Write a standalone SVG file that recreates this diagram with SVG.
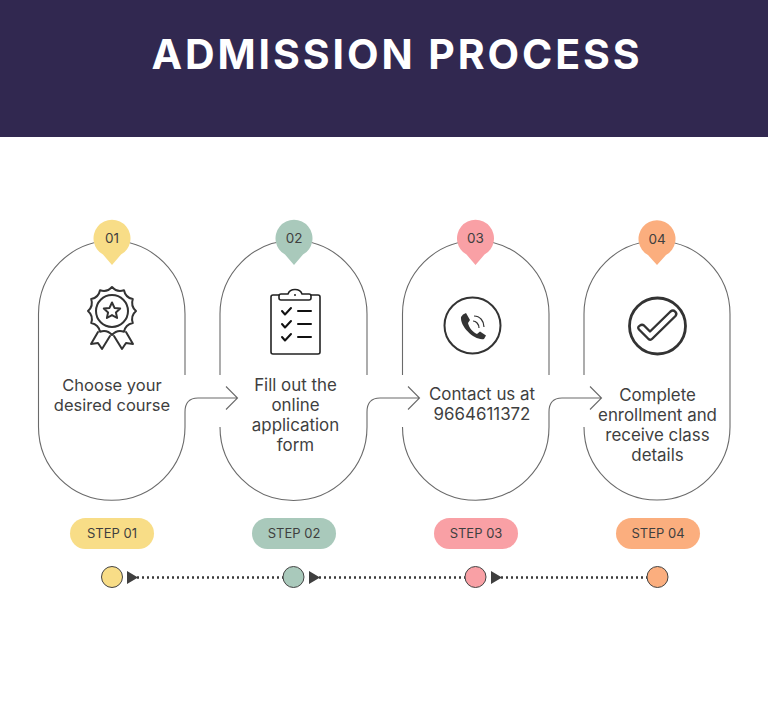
<svg xmlns="http://www.w3.org/2000/svg" width="768" height="724" viewBox="0 0 768 724">
<style>
text{font-family:"Inter","Liberation Sans",sans-serif;fill:#3f3f3f;text-anchor:middle}
.body{font-size:16.9px}
.first{font-size:16.5px}
.num{font-size:13.5px}
.step{font-size:13px}
.cap{fill:none;stroke:#6a6a6a;stroke-width:1.1}
.ic{fill:none;stroke:#333;stroke-width:2;stroke-linejoin:round;stroke-linecap:round}
.dot{stroke:#3a3a3a;stroke-width:2.4;stroke-dasharray:2 3;fill:none}
.c1{fill:#f8dd87}.c2{fill:#a9c9bb}.c3{fill:#f9a0a5}.c4{fill:#fbae7e}
.mk{stroke:#444;stroke-width:1}
</style>
<rect width="768" height="724" fill="#fff"/>
<g id="header">
<rect width="768" height="137" fill="#312850"/>
<text x="397" y="69" style="font-size:41px;font-weight:700;letter-spacing:2.9px;fill:#fff">ADMISSION PROCESS</text>
</g>
<g id="connectors">
<path class="cap" d="M185,412C185,402 190,398 198,398H237M226,386.500L237.500,398L226,409.500"/>
<path class="cap" d="M367,412C367,402 372,398 380,398H419M408,386.500L419.500,398L408,409.500"/>
<path class="cap" d="M549,412C549,402 554,398 562,398H601M590,386.500L601.500,398L590,409.500"/>
<g id="timeline">
<path class="dot" d="M137,577.500H283M319,577.500H465M501,577.500H647"/>
<path fill="#3f3f3f" d="M127,571V584L138,577.500ZM309,571V584L320,577.500ZM491,571V584L502,577.500Z"/>
</g>
</g>
<g id="node-1">
<path class="cap" d="M185,375V314A73,73 0 0 0 38.500,314V427A73,73 0 0 0 185,427V412"/>
<path class="c1" d="M112,265L103,254.500A18.500,18.500 0 1 1 121,254.500Z"/>
<text class="num" x="112" y="243">01</text>
<g transform="translate(112,311)">
<path class="ic" d="M0,-24Q4.900,-18.400 12,-20.800Q13.400,-13.400 20.800,-12Q18.400,-4.900 24,0Q18.400,4.900 20.800,12Q13.400,13.400 12,20.800Q4.900,18.400 0,24Q-4.900,18.400 -12,20.800Q-13.400,13.400 -20.800,12Q-18.400,4.900 -24,0Q-18.400,-4.900 -20.800,-12Q-13.400,-13.400 -12,-20.800Q-4.900,-18.400 0,-24Z"/>
<circle class="ic" cx="0" cy="0" r="16"/>
<path class="ic" d="M0,-8.500L2.500,-3.100L8.200,-2.500L3.900,1.400L5.100,7L0,4.100L-5.100,7L-3.900,1.400L-8.200,-2.500L-2.500,-3.100Z"/>
<path class="ic" d="M-14,21L-21,33L-14,32L-10,38L-2,25M14,21L21,33L14,32L10,38L2,25"/>
</g>
<text class="first" x="112" y="391">Choose your</text>
<text class="first" x="112" y="411">desired course</text>
<rect class="c1" x="70" y="518" width="84" height="31" rx="15.500"/>
<text class="step" x="112" y="538">STEP 01</text>
<circle class="c1 mk" cx="112" cy="577" r="10.500"/>
</g>
<g id="node-2">
<path class="cap" d="M220,375V314A73.500,73.500 0 0 1 367,314V375M367,412V427A73.500,73.500 0 0 1 220,427"/>
<path class="c2" d="M294,265L285,254.500A18.500,18.500 0 1 1 303,254.500Z"/>
<text class="num" x="294" y="243">02</text>
<g>
<path class="ic" d="M279,295H273Q271,295 271,297V352Q271,354 273,354H318Q320,354 320,352V297Q320,295 318,295H311" style="stroke-width:1.600;stroke:#222"/>
<path class="ic" d="M281,294H288C290,288 300,288 302,294H309Q311,294 311,296V298Q311,300 309,300H281Q279,300 279,298V296Q279,294 281,294Z" style="stroke-width:1.600;stroke:#222"/>
<circle cx="295" cy="295" r="1" fill="#222"/>
<path class="ic" d="M282,311L285,314.500L291,308M282,324L285,327.500L291,321M282,337L285,340.500L291,334" style="stroke:#111"/>
<path class="ic" d="M298,311H311M298,324H311M298,337H311" style="stroke:#111"/>
</g>
<text class="body" x="295.500" y="391">Fill out the</text>
<text class="body" x="295.500" y="411">online</text>
<text class="body" x="295.500" y="431">application</text>
<text class="body" x="295.500" y="451">form</text>
<rect class="c2" x="252" y="518" width="84" height="31" rx="15.500"/>
<text class="step" x="294" y="538">STEP 02</text>
<circle class="c2 mk" cx="293.500" cy="577" r="10.500"/>
</g>
<g id="node-3">
<path class="cap" d="M402.500,375V314A73.250,73.250 0 0 1 549,314V375M549,412V427A73.250,73.250 0 0 1 402.500,427"/>
<path class="c3" d="M475.500,265L466.500,254.500A18.500,18.500 0 1 1 484.500,254.500Z"/>
<text class="num" x="475.500" y="243">03</text>
<g>
<circle class="ic" cx="472.500" cy="325.500" r="28"/>
<path fill="#333" d="M463,314.500L466,313L470,320L468,323C469,328 473,332 477,334L480,331.500L486,335.500L484,339C475,341 460,327 461,317Z"/>
<path fill="none" stroke="#333" stroke-width="1.200" d="M473,321C476,321 479,324 479,328M474,316C480,316 484,321 484,327"/>
</g>
<text class="body" x="482" y="400">Contact us at</text>
<text class="body" x="482" y="420">9664611372</text>
<rect class="c3" x="434" y="518" width="84" height="31" rx="15.500"/>
<text class="step" x="476" y="538">STEP 03</text>
<circle class="c3 mk" cx="475.500" cy="577" r="10.500"/>
</g>
<g id="node-4">
<path class="cap" d="M584,375V314A73,73 0 0 1 730,314V427A73,73 0 0 1 584,427"/>
<path class="c4" d="M657,265L648,255A18.500,18.500 0 1 1 666,255Z"/>
<text class="num" x="657" y="244">04</text>
<g>
<circle class="ic" cx="657.500" cy="326" r="28" style="stroke-width:2.800"/>
<path class="ic" d="M640,325.500Q637,327 639,329.500L648,338.500Q650,341 652.500,338.500L675.500,316Q677.500,313.500 675,311.500Q673,309.500 670.500,311.500L650,331.500L644,325.500Q642,324 640,325.500Z" style="stroke-width:2.400"/>
</g>
<text class="body" x="657.500" y="401">Complete</text>
<text class="body" x="657.500" y="421">enrollment and</text>
<text class="body" x="657.500" y="441">receive class</text>
<text class="body" x="657.500" y="461">details</text>
<rect class="c4" x="616" y="518" width="84" height="31" rx="15.500"/>
<text class="step" x="658" y="538">STEP 04</text>
<circle class="c4 mk" cx="657.500" cy="577" r="10.500"/>
</g>
</svg>
